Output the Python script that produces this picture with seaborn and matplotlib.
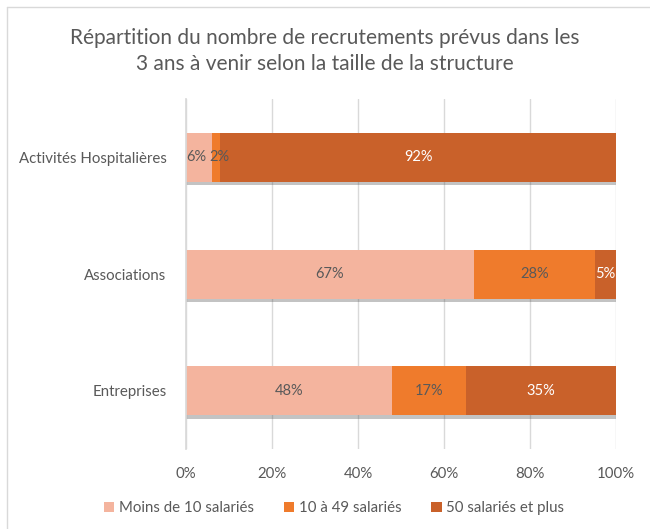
import matplotlib
matplotlib.use("Agg")
import matplotlib.pyplot as plt
import matplotlib.patheffects as pe
from matplotlib.patches import Patch
from matplotlib.lines import Line2D
import numpy as np
import pandas as pd
import seaborn as sns

# Data (share of planned hires per structure size, %)
categories = ["Activités Hospitalières", "Associations", "Entreprises"]
series_names = ["Moins de 10 salariés", "10 à 49 salariés", "50 salariés et plus"]
moins_10 = [6, 67, 48]
de_10_a_49 = [2, 28, 17]
plus_50 = [92, 5, 35]
x_ticks = [0, 20, 40, 60, 80, 100]

colors = ["#F4B49E", "#EF7B2C", "#C9612A"]
label_colors = ["#595959", "#595959", "#FFFFFF"]
grey = "#595959"

sns.set_theme(style="white")
plt.rcParams["font.family"] = ["Lato", "DejaVu Sans"]

df = pd.DataFrame({"cat": categories, "s1": moins_10, "s2": de_10_a_49, "s3": plus_50})
df["c1"] = df["s1"]
df["c2"] = df["s1"] + df["s2"]
df["c3"] = df["c2"] + df["s3"]

fig = plt.figure(figsize=(6.5, 5.29), dpi=100)
ax = fig.add_axes([186 / 650, 1 - 449 / 529, 430 / 650, 350 / 529])

# stacked bars drawn as overlapping cumulative totals (back to front)
for col, c, shadow in [("c3", colors[2], True), ("c2", colors[1], False), ("c1", colors[0], False)]:
    sns.barplot(data=df, x=col, y="cat", orient="h", color=c, width=0.42,
                saturation=1, linewidth=0, ax=ax, zorder=3)
    if shadow:
        for p in ax.patches:
            p.set_path_effects([pe.SimplePatchShadow(offset=(0, -2.5), alpha=0.35, shadow_rgbFace="#555555"),
                                pe.Normal()])

# data labels (tiny neighbouring segments get nudged apart a little)
vals = [df["s1"], df["s2"], df["s3"]]
cums = [df["c1"], df["c2"], df["c3"]]
for k in range(3):
    for i in range(len(categories)):
        v = vals[k][i]
        dx = 0
        if v < 8 and k < 2 and vals[k + 1 - 2 * (k == 1)][i] < 8:
            dx = -2 if k == 0 else 2.5
        ax.annotate(f"{v}%", (cums[k][i] - v / 2, i), xytext=(dx, 0), textcoords="offset points",
                    ha="center", va="center", fontsize=10.5, color=label_colors[k], zorder=5)

ax.set_xlim(0, 100)
ax.set_xticks(x_ticks)
ax.set_xticklabels([f"{t}%" for t in x_ticks])
ax.set_xlabel("")
ax.set_ylabel("")
ax.grid(axis="x", color="#D9D9D9", linewidth=1, zorder=0)
ax.grid(axis="y", visible=False)
ax.set_axisbelow(True)
for s in ["top", "right", "bottom"]:
    ax.spines[s].set_visible(False)
ax.spines["left"].set_color("#D9D9D9")
ax.spines["left"].set_zorder(6)
ax.tick_params(axis="x", length=0, pad=13, labelsize=10.8, labelcolor=grey)
ax.tick_params(axis="y", length=0, pad=14, labelsize=10.8, labelcolor=grey)

fig.text(0.5, 1 - 51 / 529, "Répartition du nombre de recrutements prévus dans les\n3 ans à venir selon la taille de la structure",
         ha="center", va="center", fontsize=15, color=grey, linespacing=1.35)

handles = [Patch(facecolor=c, edgecolor="none") for c in colors]
fig.legend(handles, series_names, loc="center", bbox_to_anchor=(334 / 650, 1 - 508 / 529),
           ncol=3, frameon=False, fontsize=10.8, labelcolor=grey,
           handlelength=0.7, handleheight=0.7, handletextpad=0.3, columnspacing=2.0)

# chart frame
fig.add_artist(Line2D([7 / 650, 7 / 650], [0, 1 - 7 / 529], color="#D9D9D9", lw=1, transform=fig.transFigure))
fig.add_artist(Line2D([7 / 650, 1], [1 - 7 / 529, 1 - 7 / 529], color="#D9D9D9", lw=1, transform=fig.transFigure))

fig.savefig("out.png", dpi=100)
